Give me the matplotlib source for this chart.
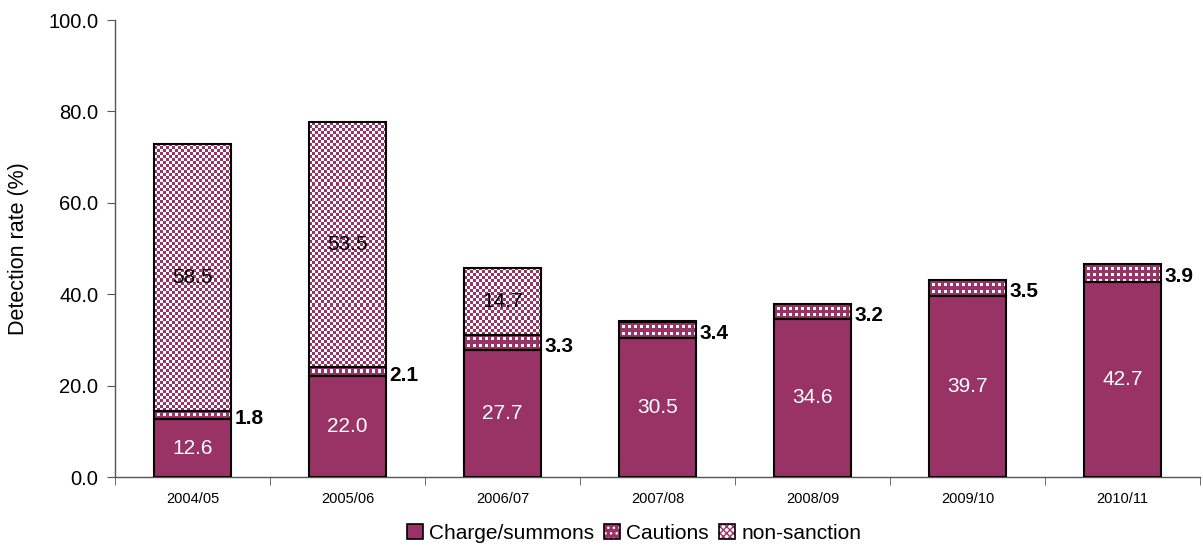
import matplotlib.pyplot as plt
import numpy as np
from matplotlib.patches import Patch

plt.rcParams['font.family'] = ['Liberation Sans', 'DejaVu Sans']

YEARS = ['2004/05', '2005/06', '2006/07', '2007/08', '2008/09', '2009/10', '2010/11']
CHARGE = [12.6, 22.0, 27.7, 30.5, 34.6, 39.7, 42.7]
CAUTIONS = [1.8, 2.1, 3.3, 3.4, 3.2, 3.5, 3.9]
NON_SANCTION = [58.5, 53.5, 14.7, 0.3, 0.0, 0.0, 0.0]

PLUM = np.array([0x99, 0x33, 0x66]) / 255.0
WHITE = np.array([1.0, 1.0, 1.0])

FIG_W, FIG_H, DPI = 12.03, 5.53, 100
AX_RECT = [0.0956, 0.1374, 0.9019, 0.8264]
BAR_W = 0.5
CELL_PX = 3.0


def texture(kind, w_px, h_px):
    # small repeating fill: checkerboard or white dots on plum
    nx = max(1, int(round(w_px / CELL_PX)))
    ny = max(1, int(round(h_px / CELL_PX)))
    i, j = np.indices((ny, nx))
    if kind == 'check':
        mask = (i + j) % 2 == 0
    else:
        mask = (i % 2 == 1) & (j % 2 == 1)
    return np.where(mask[..., None], WHITE, PLUM)


def patterned_bar(ax, x, bottom, height, kind):
    if height <= 0:
        return
    ax_w_px = FIG_W * DPI * AX_RECT[2]
    ax_h_px = FIG_H * DPI * AX_RECT[3]
    w_px = BAR_W * ax_w_px / 7.0
    h_px = height * ax_h_px / 100.0
    img = texture(kind, w_px, h_px)
    ax.imshow(img, extent=(x - BAR_W / 2, x + BAR_W / 2, bottom, bottom + height),
              interpolation='nearest', aspect='auto', zorder=2)
    ax.bar(x, height, BAR_W, bottom=bottom, fill=False, edgecolor='black',
           linewidth=1.5, zorder=3)


fig = plt.figure(figsize=(FIG_W, FIG_H), dpi=DPI)
ax = fig.add_axes(AX_RECT)

x = np.arange(len(YEARS))
ax.bar(x, CHARGE, BAR_W, color=PLUM, edgecolor='black', linewidth=1.5, zorder=3)

for xi, c, ca, ns in zip(x, CHARGE, CAUTIONS, NON_SANCTION):
    patterned_bar(ax, xi, c, ca, 'dots')
    patterned_bar(ax, xi, c + ca, ns, 'check')

    ax.text(xi, c / 2, f'{c:.1f}', ha='center', va='center', color='white',
            fontsize=15, zorder=4)
    ax.text(xi + BAR_W / 2 + 0.02, c + ca / 2 - 0.8, f'{ca:.1f}', ha='left',
            va='center', color='black', fontsize=15, fontweight='bold', zorder=4)
    if ns > 1:
        ax.text(xi, c + ca + ns / 2, f'{ns:.1f}', ha='center', va='center',
                color='black', fontsize=15, zorder=4)

ax.set_xlim(-0.5, len(YEARS) - 0.5)
ax.set_ylim(0, 100)

ax.set_yticks(np.arange(0, 101, 20))
ax.set_yticklabels([f'{v:.1f}' for v in np.arange(0, 101, 20)], fontsize=14.5)
ax.set_ylabel('Detection rate (%)', fontsize=15.5, labelpad=14)

ax.set_xticks(x)
ax.set_xticklabels(YEARS, fontsize=10.5)
ax.set_xticks(np.arange(-0.5, len(YEARS), 1), minor=True)
ax.tick_params(axis='x', which='major', length=0, pad=11)
ax.tick_params(axis='x', which='minor', length=6, direction='out', color='#555555')
ax.tick_params(axis='y', length=6, direction='out', color='#555555', pad=6)

for side in ['top', 'right']:
    ax.spines[side].set_visible(False)
for side in ['left', 'bottom']:
    ax.spines[side].set_color('#555555')
    ax.spines[side].set_linewidth(1.0)

# legend swatches: fill pattern overlaid with a black outline
outline = dict(fill=False, edgecolor='black', linewidth=1.2)
handles = [
    Patch(facecolor=PLUM, edgecolor='black', linewidth=1.2),
    (Patch(facecolor=PLUM, edgecolor='white', hatch='...', linewidth=0), Patch(**outline)),
    (Patch(facecolor='white', edgecolor=PLUM, hatch='xxxxx', linewidth=0), Patch(**outline)),
]
fig.legend(handles, ['Charge/summons', 'Cautions', 'non-sanction'],
           loc='lower center', bbox_to_anchor=(0.527, -0.015), ncol=3, frameon=False,
           fontsize=15, handlelength=0.75, handleheight=0.75, handletextpad=0.3,
           columnspacing=0.5)

fig.savefig('out.png', dpi=DPI)
